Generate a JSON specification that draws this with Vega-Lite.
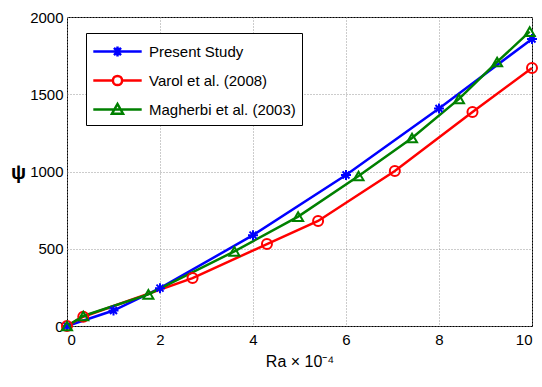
{
  "$schema": "https://vega.github.io/schema/vega-lite/v6.json",
  "autosize": "none",
  "width": 465,
  "height": 309,
  "padding": {"left": 67, "top": 17, "right": 10, "bottom": 61},
  "background": "white",
  "config": {
    "font": "Liberation Sans",
    "view": {"stroke": "black", "strokeWidth": 1}
  },
  "data": {
    "values": [
      {"series": "Present Study", "ra": 0, "psi": 0},
      {"series": "Present Study", "ra": 1, "psi": 100},
      {"series": "Present Study", "ra": 2, "psi": 245},
      {"series": "Present Study", "ra": 4, "psi": 588},
      {"series": "Present Study", "ra": 6, "psi": 977},
      {"series": "Present Study", "ra": 8, "psi": 1408},
      {"series": "Present Study", "ra": 10, "psi": 1858},
      {"series": "Varol et al. (2008)", "ra": 0, "psi": 0},
      {"series": "Varol et al. (2008)", "ra": 0.35, "psi": 60},
      {"series": "Varol et al. (2008)", "ra": 2.7, "psi": 310},
      {"series": "Varol et al. (2008)", "ra": 4.3, "psi": 530},
      {"series": "Varol et al. (2008)", "ra": 5.4, "psi": 680},
      {"series": "Varol et al. (2008)", "ra": 7.05, "psi": 1003},
      {"series": "Varol et al. (2008)", "ra": 8.72, "psi": 1385},
      {"series": "Varol et al. (2008)", "ra": 10, "psi": 1670},
      {"series": "Magherbi et al. (2003)", "ra": 0, "psi": 0},
      {"series": "Magherbi et al. (2003)", "ra": 0.35, "psi": 65},
      {"series": "Magherbi et al. (2003)", "ra": 1.75, "psi": 205},
      {"series": "Magherbi et al. (2003)", "ra": 3.6, "psi": 483},
      {"series": "Magherbi et al. (2003)", "ra": 4.97, "psi": 708},
      {"series": "Magherbi et al. (2003)", "ra": 6.27, "psi": 971},
      {"series": "Magherbi et al. (2003)", "ra": 7.42, "psi": 1217},
      {"series": "Magherbi et al. (2003)", "ra": 8.43, "psi": 1470},
      {"series": "Magherbi et al. (2003)", "ra": 9.25, "psi": 1709},
      {"series": "Magherbi et al. (2003)", "ra": 9.95, "psi": 1905}
    ]
  },
  "encoding": {
    "x": {
      "field": "ra", "type": "quantitative",
      "scale": {"domain": [0, 10], "nice": false, "zero": false},
      "axis": {
        "values": [0, 2, 4, 6, 8, 10], "title": "Ra × 10⁻⁴", "format": "d",
        "domain": false, "ticks": false, "labelPadding": 6,
        "labelFontSize": 15, "labelColor": "black", "titleFontSize": 16,
        "titleFontWeight": "normal", "titleColor": "black", "titlePadding": 6,
        "gridColor": "#999", "gridDash": [1, 2], "gridWidth": 1, "gridOpacity": 1
      }
    },
    "y": {
      "field": "psi", "type": "quantitative",
      "scale": {"domain": [0, 2000], "nice": false},
      "axis": {
        "values": [0, 500, 1000, 1500, 2000], "title": "ψ", "format": "d",
        "domain": false, "ticks": false, "labelPadding": 4,
        "labelFontSize": 15, "labelColor": "black",
        "titleFontSize": 20, "titleFontWeight": "bold", "titleColor": "black",
        "titleAngle": 0, "titleX": -49, "titleY": 155, "titleAlign": "center", "titleBaseline": "middle",
        "gridColor": "#999", "gridDash": [1, 2], "gridWidth": 1, "gridOpacity": 1
      }
    }
  },
  "layer": [
    {
      "mark": {"type": "line", "strokeWidth": 2.5},
      "encoding": {
        "color": {
          "field": "series", "type": "nominal",
          "scale": {
            "domain": ["Present Study", "Varol et al. (2008)", "Magherbi et al. (2003)"],
            "range": ["#0000ff", "#ff0000", "#008000"]
          },
          "legend": {
            "title": null, "orient": "none", "legendX": 19, "legendY": 16,
            "strokeColor": "black", "fillColor": "white", "padding": 6,
            "labelFontSize": 15, "labelColor": "black", "labelLimit": 300,
            "symbolSize": 484, "symbolStrokeWidth": 2.5, "symbolOffset": 13,
            "labelOffset": 19, "rowPadding": 6, "symbolFillColor": "transparent",
            "encoding": {
              "symbols": {
                "fill": {"value": "transparent"},
                "shape": {"value": {"expr": "datum.value === 'Present Study' ? 'M-2.2,0L2.2,0M0,-0.45L0,0.45M-0.45,0L0.45,0M-0.32,-0.32L0.32,0.32M-0.32,0.32L0.32,-0.32' : datum.value === 'Varol et al. (2008)' ? 'M-2.2,0L-0.42,0M0.42,0L2.2,0M-0.42,0A0.42,0.42 0 1,0 0.42,0A0.42,0.42 0 1,0 -0.42,0' : 'M-2.2,0L2.2,0M-0.5,0.38L0,-0.5L0.5,0.38Z'"}}
              }
            }
          }
        }
      }
    },
    {
      "mark": {"type": "point", "filled": false, "strokeWidth": 2, "size": 100, "opacity": 1},
      "encoding": {
        "color": {
          "field": "series", "type": "nominal",
          "scale": {
            "domain": ["Present Study", "Varol et al. (2008)", "Magherbi et al. (2003)"],
            "range": ["#0000ff", "#ff0000", "#008000"]
          },
          "legend": {
            "title": null, "orient": "none", "legendX": 19, "legendY": 16,
            "strokeColor": "black", "fillColor": "white", "padding": 6,
            "labelFontSize": 15, "labelColor": "black", "labelLimit": 300,
            "symbolSize": 484, "symbolStrokeWidth": 2.5, "symbolOffset": 13,
            "labelOffset": 19, "rowPadding": 6, "symbolFillColor": "transparent",
            "encoding": {
              "symbols": {
                "fill": {"value": "transparent"},
                "shape": {"value": {"expr": "datum.value === 'Present Study' ? 'M-2.2,0L2.2,0M0,-0.45L0,0.45M-0.45,0L0.45,0M-0.32,-0.32L0.32,0.32M-0.32,0.32L0.32,-0.32' : datum.value === 'Varol et al. (2008)' ? 'M-2.2,0L-0.42,0M0.42,0L2.2,0M-0.42,0A0.42,0.42 0 1,0 0.42,0A0.42,0.42 0 1,0 -0.42,0' : 'M-2.2,0L2.2,0M-0.5,0.38L0,-0.5L0.5,0.38Z'"}}
              }
            }
          }
        },
        "shape": {
          "field": "series", "type": "nominal",
          "scale": {
            "domain": ["Magherbi et al. (2003)", "Present Study", "Varol et al. (2008)"],
            "range": ["triangle-up", "M-1,0L1,0M0,-1L0,1M-0.7,-0.7L0.7,0.7M-0.7,0.7L0.7,-0.7", "circle"]
          },
          "legend": null
        }
      }
    }
  ]
}
